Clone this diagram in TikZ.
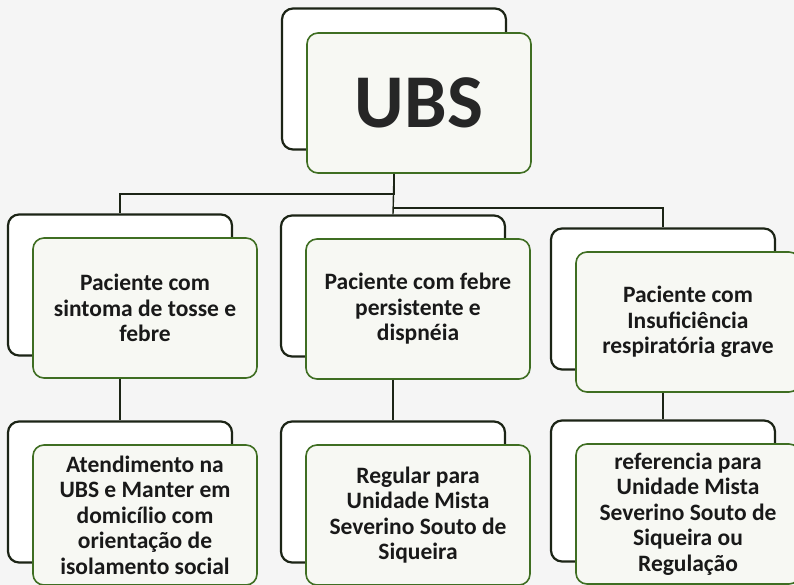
\documentclass[tikz,border=0pt]{standalone}
\usepackage{fontspec}
\setmainfont{Carlito}
\usetikzlibrary{positioning}

\definecolor{boxgreen}{HTML}{3F6E22}
\definecolor{boxfill}{HTML}{F7F8F3}
\definecolor{framedark}{HTML}{1C2416}

\tikzset{
  frame/.style={draw=framedark, line width=2.2pt, fill=white, rounded corners=11pt,
    minimum width=224pt, minimum height=141pt},
  card/.style={draw=boxgreen, line width=1.6pt, fill=boxfill, rounded corners=11pt,
    minimum width=224pt, minimum height=140pt, align=center,
    font=\fontsize{23.5}{25.5}\selectfont\bfseries, text=black!90},
  wire/.style={draw=framedark, line width=1.4pt}
}

\begin{document}
\begin{tikzpicture}[x=1pt, y=1pt]
		\useasboundingbox[fill=black!4] (0,0) rectangle (794,585);
		
		\node[frame]                                  (ubs frame)     at (394,506) {};
		\node[card, font=\fontsize{76}{90}\selectfont\bfseries, text=black!85,
		      xshift=25pt, yshift=-24pt]              (ubs)           at (ubs frame) {UBS};
		
		\node[frame]                                  (tosse frame)   at (120,300) {};
		\node[card, xshift=25pt, yshift=-23pt]        (tosse)         at (tosse frame) {Paciente com\\sintoma de tosse e\\febre};
		\node[frame]                                  (febre frame)   at (393,299) {};
		\node[card, xshift=25pt, yshift=-23pt]        (febre)         at (febre frame) {Paciente com febre\\persistente e\\dispnéia};
		\node[frame]                                  (grave frame)   at (663,286) {};
		\node[card, xshift=25pt, yshift=-23pt]        (grave)         at (grave frame) {Paciente com\\Insuficiência\\respiratória grave};
		
		\node[frame]                                  (atend frame)   at (120,93) {};
		\node[card, xshift=25pt, yshift=-23pt]        (atend)         at (atend frame) {Atendimento na\\UBS e Manter em\\domicílio com\\orientação de\\isolamento social};
		\node[frame]                                  (regular frame) at (393,93) {};
		\node[card, xshift=25pt, yshift=-23pt]        (regular)       at (regular frame) {Regular para\\Unidade Mista\\Severino Souto de\\Siqueira};
		\node[frame]                                  (ref frame)     at (663,94) {};
		\node[card, xshift=25pt, yshift=-23pt]        (ref)           at (ref frame) {referencia para\\Unidade Mista\\Severino Souto de\\Siqueira ou\\Regulação};
		
		\coordinate (left bus)  at (0,391);
		\coordinate (right bus) at (0,377);
		
		\draw[wire] (ubs frame |- ubs.south) |- (left bus -| tosse frame) -- (tosse frame.north);
		\draw[wire] (ubs frame |- ubs.south) -- (febre frame.north);
		\draw[wire] (right bus -| ubs frame) -| (grave frame.north);
		
		\draw[wire] (tosse frame |- tosse.south) -- (atend frame.north);
		\draw[wire] (febre frame |- febre.south) -- (regular frame.north);
		\draw[wire] (grave frame |- grave.south) -- (ref frame.north);
	\end{tikzpicture}
\end{document}
